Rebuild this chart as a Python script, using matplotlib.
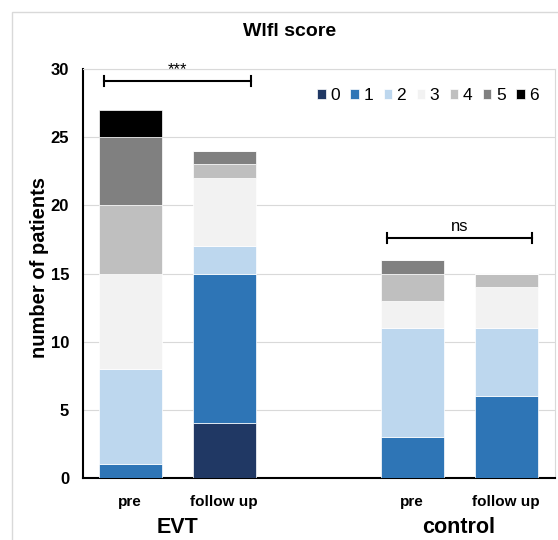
import matplotlib.pyplot as plt
from matplotlib.patches import Rectangle
import numpy as np

plt.rcParams['font.family'] = ['Liberation Sans', 'DejaVu Sans']

bar_labels = ['pre', 'follow up', 'pre', 'follow up']
groups = ['EVT', 'control']
scores = ['0', '1', '2', '3', '4', '5', '6']
colors = ['#203864', '#2E75B6', '#BDD7EE', '#F2F2F2', '#BFBFBF', '#808080', '#000000']

# counts per score: EVT pre, EVT follow up, control pre, control follow up
counts = {
    '0': [0, 4, 0, 0],
    '1': [1, 11, 3, 6],
    '2': [7, 2, 8, 5],
    '3': [7, 5, 2, 3],
    '4': [5, 1, 2, 1],
    '5': [5, 1, 1, 0],
    '6': [2, 0, 0, 0],
}
signif = ['***', 'ns']


def draw():
    fig = plt.figure(figsize=(5.58, 5.4), dpi=100)
    fig.patches.append(Rectangle((12 / 558, -0.1), 1.2, 1 - 12 / 540 + 0.1,
                                 transform=fig.transFigure, fill=False,
                                 edgecolor='#D9D9D9', linewidth=1))
    ax = fig.add_axes([83 / 558, 1 - 478 / 540, 472 / 558, 409 / 540])

    x = np.array([0, 1, 3, 4])
    bottom = np.zeros(4)
    for s, c in zip(scores, colors):
        vals = np.array(counts[s])
        ax.bar(x, vals, 0.67, bottom=bottom, color=c, edgecolor='white',
               linewidth=0.5, label=s, zorder=3)
        bottom += vals

    ax.set_xlim(-0.5, 4.52)
    ax.set_ylim(0, 30)
    ax.set_yticks(range(0, 31, 5))
    ax.yaxis.grid(True, color='#D9D9D9', linewidth=0.8, zorder=0)
    ax.tick_params(axis='y', length=0, pad=10, labelsize=12)
    ax.tick_params(axis='x', length=0, pad=12, labelsize=11)
    for t in ax.get_yticklabels():
        t.set_fontweight('bold')
    ax.set_xticks(x)
    ax.set_xticklabels(bar_labels, fontweight='bold')

    ax.spines['left'].set_linewidth(1.5)
    ax.spines['bottom'].set_linewidth(1.5)
    ax.spines['top'].set_color('#D9D9D9')
    ax.spines['right'].set_color('#D9D9D9')

    fig.text(40 / 558, 1 - 268 / 540, 'number of patients', rotation=90,
             ha='center', va='center', fontsize=14.5, fontweight='bold')
    fig.text(290 / 558, 1 - 32 / 540, 'Wlfl score', ha='center', va='center',
             fontsize=14, fontweight='bold')

    for gx, g in zip([0.5, 3.5], groups):
        ax.text(gx, -0.12, g, transform=ax.get_xaxis_transform(), ha='center',
                va='center', fontsize=15.5, fontweight='bold')

    # significance brackets
    for (x0, x1), y, lab in zip([(-0.28, 1.29), (2.73, 4.28)], [29.1, 17.6], signif):
        ax.plot([x0, x1], [y, y], color='black', linewidth=1.5, zorder=4)
        ax.plot([x0, x0], [y - 0.35, y + 0.35], color='black', linewidth=1.5, zorder=4)
        ax.plot([x1, x1], [y - 0.35, y + 0.35], color='black', linewidth=1.5, zorder=4)
        ax.text((x0 + x1) / 2, y + 0.3, lab, ha='center', va='bottom', fontsize=12)

    ax.legend(ncol=7, loc='center right', bbox_to_anchor=(0.98, 1 - 27 / 409),
              frameon=False, handlelength=0.5, handleheight=0.5, handletextpad=0.25,
              columnspacing=0.6, fontsize=12.5, borderaxespad=0)

    plt.savefig('out.png', dpi=100)


def main():
    draw()


if __name__ == '__main__':
    main()
